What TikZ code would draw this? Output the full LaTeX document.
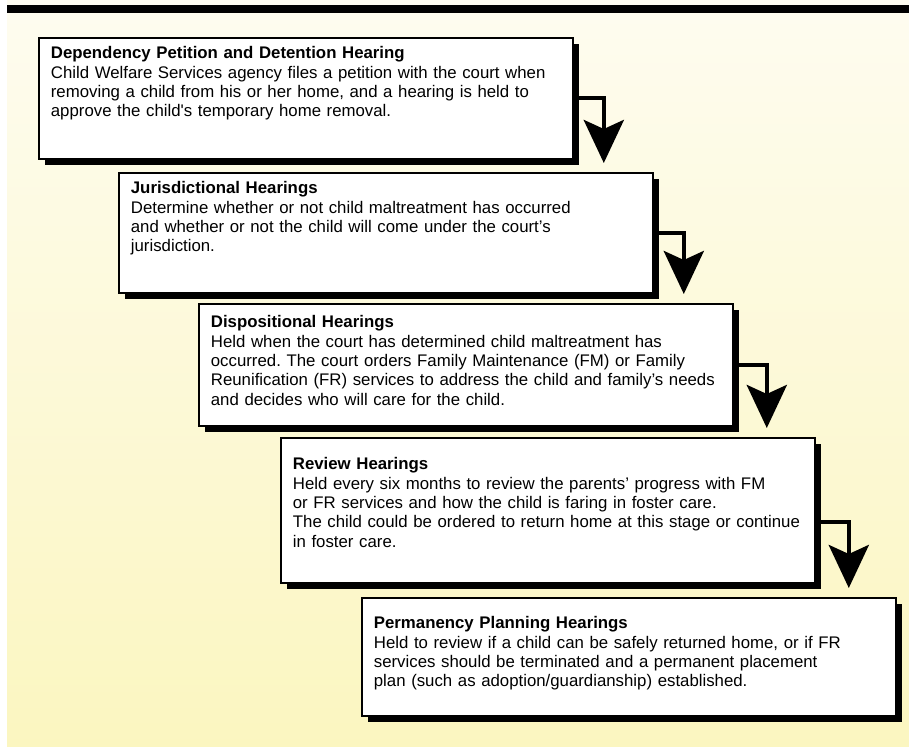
\documentclass[tikz,border=0pt]{standalone}
\usepackage{fontspec}
\setmainfont{Liberation Sans}
\usetikzlibrary{arrows.meta, calc, shadows}
\definecolor{paperTop}{RGB}{254,252,240}
\definecolor{paperBottom}{RGB}{251,246,192}
\frenchspacing

\begin{document}
\begin{tikzpicture}[x=1pt, y=-1pt]
\tikzset{stage/.style={rectangle, draw=black, line width=1.8pt, fill=white, anchor=north west, inner xsep=12pt, inner ysep=0pt, text width=510pt, align=left, font=\fontsize{16.8}{19.3}\selectfont, drop shadow={shadow xshift=6pt, shadow yshift=-6pt, fill=black, opacity=1}}}
\tikzset{flow/.style={line width=4.5pt, -{Stealth[length=43pt, width=40pt, inset=9pt]}, shorten >=9pt}}

\newcommand{\hearing}[7]{
\node[stage, text height=#3, text depth=#4] (#5) at (#1,#2) {\textbf{#6}\\#7};
}

\useasboundingbox (0,0) rectangle (909,746);
\fill[white] (0,0) rectangle (909,746);
\shade[top color=paperTop, bottom color=paperBottom] (7,0) rectangle (909,746);
\fill[black] (7,5) rectangle (909,13);

\hearing{38}{37}{21pt}{100pt}{petition}{Dependency Petition and Detention Hearing}{Child Welfare Services agency files a petition with the court when\\removing a child from his or her home, and a hearing is held to\\approve the child\textquotesingle s temporary home removal.}
\hearing{118}{172}{21pt}{99pt}{jurisdiction}{Jurisdictional Hearings}{Determine whether or not child maltreatment has occurred\\and whether or not the child will come under the court’s\\jurisdiction.}
\hearing{198}{303}{24pt}{98pt}{disposition}{Dispositional Hearings}{Held when the court has determined child maltreatment has\\occurred. The court orders Family Maintenance (FM) or Family\\Reunification (FR) services to address the child and family’s needs\\and decides who will care for the child.}
\hearing{280}{437}{32pt}{113pt}{review}{Review Hearings}{Held every six months to review the parents’ progress with FM\\or FR services and how the child is faring in foster care.\\The child could be ordered to return home at this stage or continue\\in foster care.}
\hearing{361}{597}{31pt}{87pt}{permanency}{Permanency Planning Hearings}{Held to review if a child can be safely returned home, or if FR\\services should be terminated and a permanent placement\\plan (such as adoption/guardianship) established.}

% stage to stage
\draw[flow] ([yshift=-61pt]petition.north east) -| ($(petition.east |- jurisdiction.north)+(30pt,0)$);
\draw[flow] ([yshift=-61pt]jurisdiction.north east) -| ($(jurisdiction.east |- disposition.north)+(30pt,0)$);
\draw[flow] ([yshift=-62pt]disposition.north east) -| ($(disposition.east |- review.north)+(33pt,0)$);
\draw[flow] ([yshift=-85pt]review.north east) -| ($(review.east |- permanency.north)+(33pt,0)$);
\end{tikzpicture}
\end{document}
